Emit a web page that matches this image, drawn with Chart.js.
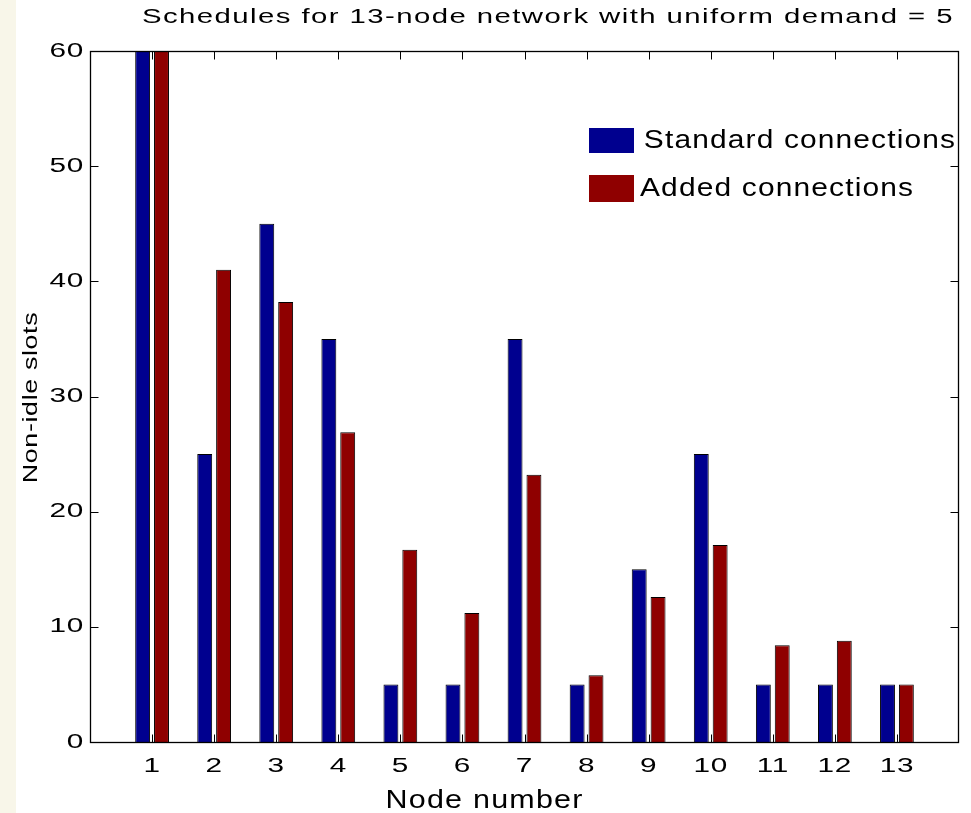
<!DOCTYPE html>
<html>
<head>
<meta charset="utf-8">
<script src="https://cdn.jsdelivr.net/npm/chart.js@4.4.1/dist/chart.umd.min.js"></script>
<style>
html,body{margin:0;padding:0;background:#fff;}
canvas{display:block;}
</style>
</head>
<body>
<canvas id="c" width="971" height="813"></canvas>
<script>
// ---- data ----
const nodeNumbers   = [1, 2, 3, 4, 5, 6, 7, 8, 9, 10, 11, 12, 13];
const standardSlots = [60, 25, 45, 35, 5, 5, 35, 5, 15, 25, 5, 5, 5];
const addedSlots    = [60, 41, 38.2, 26.9, 16.7, 11.2, 23.2, 5.8, 12.6, 17.1, 8.4, 8.8, 5];
const yTickValues   = [0, 10, 20, 30, 40, 50, 60];
const seriesNames   = ['Standard connections', 'Added connections'];
const chartTitle    = 'Schedules for 13-node network with uniform demand = 5';
const xAxisTitle    = 'Node number';
const yAxisTitle    = 'Non-idle slots';

// ---- styling ----
const BLUE = '#00008F';
const RED  = '#8F0000';
const FONT = '"Liberation Sans", Arial, Helvetica, sans-serif';
const TICK_STRETCH = 1.45;
let curStretch = TICK_STRETCH;
let rawMeasure = null;

function fitText(ctx, str, left, right, baseline, size, spacing) {
  ctx.save();
  ctx.font = size + 'px ' + FONT;
  ctx.letterSpacing = spacing + 'px';
  ctx.textAlign = 'left';
  ctx.textBaseline = 'alphabetic';
  ctx.fillStyle = '#000';
  const m = rawMeasure(str);
  const ink = m.actualBoundingBoxLeft + m.actualBoundingBoxRight;
  const s = (right - left) / ink;
  curStretch = s;
  ctx.fillText(str, left + m.actualBoundingBoxLeft * s, baseline);
  curStretch = TICK_STRETCH;
  ctx.restore();
}

const matlabLook = {
  id: 'matlabLook',
  beforeInit(chart) {
    const ctx = chart.ctx;
    const fill = ctx.fillText.bind(ctx);
    rawMeasure = ctx.measureText.bind(ctx);
    ctx.fillText = function (t, x, y) {
      ctx.save();
      ctx.translate(x, y);
      ctx.scale(curStretch, 1);
      fill(t, 0, 0);
      ctx.restore();
    };
    ctx.measureText = function (t) {
      const m = rawMeasure(t);
      return {
        width: m.width * curStretch,
        actualBoundingBoxAscent: m.actualBoundingBoxAscent,
        actualBoundingBoxDescent: m.actualBoundingBoxDescent,
        actualBoundingBoxLeft: m.actualBoundingBoxLeft * curStretch,
        actualBoundingBoxRight: m.actualBoundingBoxRight * curStretch,
        fontBoundingBoxAscent: m.fontBoundingBoxAscent,
        fontBoundingBoxDescent: m.fontBoundingBoxDescent
      };
    };
  },
  beforeDraw(chart) {
    const ctx = chart.ctx;
    ctx.save();
    ctx.fillStyle = '#ffffff';
    ctx.fillRect(0, 0, chart.width, chart.height);
    ctx.fillStyle = '#F8F6E9';
    ctx.fillRect(0, 0, 16, chart.height);
    ctx.restore();
    ctx.letterSpacing = '0.5px';
  },
  afterDatasetsDraw(chart) {
    const ctx = chart.ctx;
    const xs = chart.scales.x, ys = chart.scales.y, a = chart.chartArea;
    const L = Math.round(a.left) + 0.5, R = Math.round(a.right) - 0.5;
    const T = Math.round(a.top) + 0.5, B = Math.round(a.bottom) + 0.5;
    ctx.save();
    ctx.strokeStyle = '#000';
    ctx.lineWidth = 1;
    ctx.beginPath();
    nodeNumbers.forEach(n => {
      const px = Math.round(xs.getPixelForValue(n)) + 0.5;
      ctx.moveTo(px, B); ctx.lineTo(px, B - 8);
      ctx.moveTo(px, T); ctx.lineTo(px, T + 8);
    });
    yTickValues.forEach(v => {
      const py = Math.round(ys.getPixelForValue(v)) + 0.5;
      ctx.moveTo(L, py); ctx.lineTo(L + 8, py);
      ctx.moveTo(R, py); ctx.lineTo(R - 8, py);
    });
    ctx.stroke();
    ctx.lineWidth = 1.3;
    ctx.strokeRect(L, T, R - L, B - T);
    ctx.restore();
  },
  afterDraw(chart) {
    const ctx = chart.ctx;
    ctx.save();
    ctx.letterSpacing = '0px';
    // title
    fitText(ctx, chartTitle, 142, 952, 23, 20.5, 1);
    // legend
    ctx.fillStyle = BLUE;
    ctx.fillRect(589, 128, 45, 25);
    ctx.fillStyle = RED;
    ctx.fillRect(589, 175, 45, 27);
    fitText(ctx, seriesNames[0], 645, 955, 147.5, 26, 1);
    fitText(ctx, seriesNames[1], 640, 913, 196, 26, 1);
    // x axis title
    fitText(ctx, xAxisTitle, 388, 582, 808, 25, 1);
    // y axis title (rotated)
    ctx.save();
    ctx.translate(37, 482);
    ctx.rotate(-Math.PI / 2);
    fitText(ctx, yAxisTitle, 0, 169, 0, 21, 0.5);
    ctx.restore();
    ctx.restore();
  }
};

Chart.defaults.color = '#000';

new Chart(document.getElementById('c'), {
  type: 'bar',
  data: {
    datasets: [
      {
        label: seriesNames[0],
        data: nodeNumbers.map((n, i) => ({ x: n, y: standardSlots[i] })),
        backgroundColor: BLUE,
        borderColor: '#000',
        borderWidth: 1
      },
      {
        label: seriesNames[1],
        data: nodeNumbers.map((n, i) => ({ x: n, y: addedSlots[i] })),
        backgroundColor: RED,
        borderColor: '#000',
        borderWidth: 1
      }
    ]
  },
  options: {
    responsive: false,
    animation: false,
    events: [],
    devicePixelRatio: 1,
    categoryPercentage: 0.608,
    barPercentage: 0.79,
    layout: { padding: { left: 0, right: 6, top: 51, bottom: 0 } },
    plugins: {
      legend: { display: false },
      title: { display: false },
      tooltip: { enabled: false }
    },
    scales: {
      x: {
        type: 'linear',
        min: 0,
        max: 14,
        offset: false,
        grid: { display: false, drawTicks: false },
        border: { display: false },
        ticks: {
          stepSize: 1,
          padding: 12,
          maxRotation: 0,
          autoSkip: false,
          font: { family: FONT, size: 20.5 },
          callback: v => (v >= 1 && v <= 13 ? String(v) : '')
        },
        afterFit: s => { s.height = 71; }
      },
      y: {
        min: 0,
        max: 60,
        grid: { display: false, drawTicks: false },
        border: { display: false },
        ticks: {
          stepSize: 10,
          padding: 6,
          font: { family: FONT, size: 20.5 }
        },
        afterFit: s => { s.width = 90; }
      }
    }
  },
  plugins: [matlabLook]
});
</script>
</body>
</html>
